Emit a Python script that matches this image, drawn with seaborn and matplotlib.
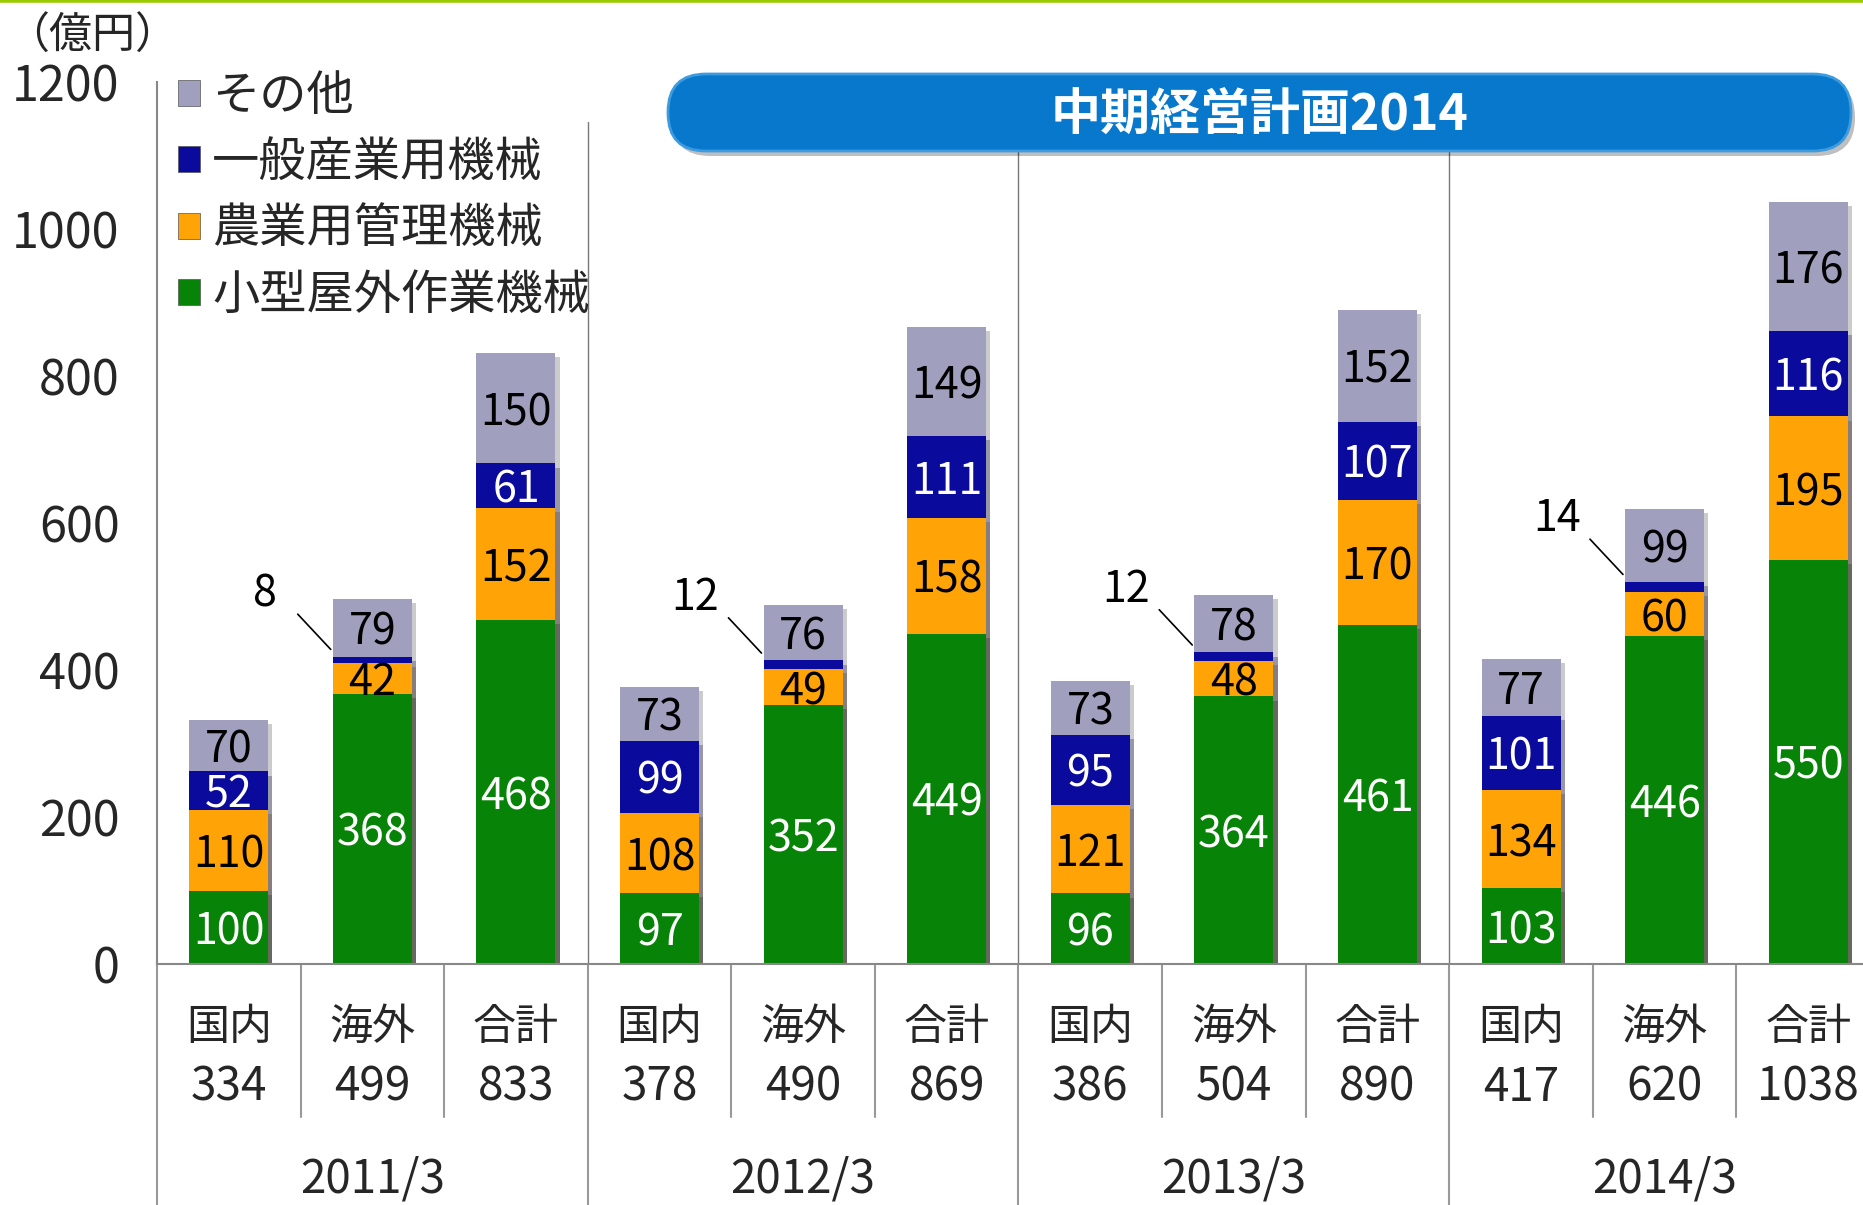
"""
Stacked bar chart: sales by segment, domestic / overseas / total, 2011/3 - 2014/3.
"""
import matplotlib
matplotlib.use('Agg')
import matplotlib.pyplot as plt
import matplotlib.patheffects as pe
import seaborn as sns
import pandas as pd
from matplotlib import font_manager, transforms
from matplotlib.patches import FancyBboxPatch, Patch
from matplotlib.lines import Line2D

# Data (億円)
years = ['2011/3', '2012/3', '2013/3', '2014/3']
regions = ['国内', '海外', '合計']
totals = [334, 499, 833, 378, 490, 869, 386, 504, 890, 417, 620, 1038]

series_names = ['小型屋外作業機械', '農業用管理機械', '一般産業用機械', 'その他']
outdoor = [100, 368, 468, 97, 352, 449, 96, 364, 461, 103, 446, 550]
agri = [110, 42, 152, 108, 49, 158, 121, 48, 170, 134, 60, 195]
industrial = [52, 8, 61, 99, 12, 111, 95, 12, 107, 101, 14, 116]
other = [70, 79, 150, 73, 76, 149, 73, 78, 152, 77, 99, 176]

colors = ['#078407', '#ffa306', '#0a0a9c', '#a0a0be']
label_colors = ['white', 'black', 'white', 'black']

W, H = 1863, 1205


def main():
    sns.set_style('white')
    plt.rcParams['font.family'] = ['Noto Sans CJK JP', 'DejaVu Sans']
    names = {f.name for f in font_manager.fontManager.ttflist}
    if 'Liberation Sans Narrow' in names:
        num_font, num_size = 'Liberation Sans Narrow', 34
    else:
        num_font, num_size = 'Noto Sans CJK JP', 31

    fig = plt.figure(figsize=(W / 100, H / 100), dpi=100)
    ax = fig.add_axes([157 / W, 0.2, 1723 / W, 882 / H])

    keys = [f'{y} {r}' for y in years for r in regions]
    df = pd.DataFrame({'key': keys, 's0': outdoor, 's1': agri, 's2': industrial, 's3': other})
    cols = ['s0', 's1', 's2', 's3']
    cum = df[cols].cumsum(axis=1)
    cum['key'] = keys

    # stacked bars: draw cumulative heights from the top layer down
    for k in reversed(range(4)):
        sns.barplot(data=cum, x='key', y=cols[k], order=keys, color=colors[k],
                    saturation=1, width=0.55, errorbar=None, ax=ax, edgecolor='none')
    for p in ax.patches:
        p.set_path_effects([pe.SimplePatchShadow(offset=(3, -3), alpha=0.25), pe.Normal()])

    # segment labels
    for k, col in enumerate(cols):
        for i in range(len(keys)):
            v = df[col][i]
            bottom = cum[col][i] - v
            if v < 20:
                top = cum[col][i]
                ax.plot([i - 0.52, i - 0.29], [top + 58, top + 10], color='black', lw=1.2)
                ax.text(i - 0.75, top + 92, str(v), ha='center', va='center_baseline',
                        fontsize=num_size, family=num_font, color='black')
                continue
            ax.text(i, bottom + v / 2, str(v), ha='center', va='center_baseline',
                    fontsize=num_size, family=num_font, color=label_colors[k])

    ax.set_xlim(-0.5, 11.5)
    ax.set_ylim(0, 1200)
    ax.set_xlabel('')
    ax.set_ylabel('')
    ax.set_xticks([])
    ax.set_yticks(range(0, 1201, 200))
    ax.tick_params(axis='y', direction='out', length=10, width=1.5, color='#888888',
                   pad=17, labelsize=35)
    for s in ['top', 'right']:
        ax.spines[s].set_visible(False)
    for s in ['left', 'bottom']:
        ax.spines[s].set_color('#888888')
        ax.spines[s].set_linewidth(1.5)

    # group separators inside the plot
    for x in [2.5, 5.5, 8.5]:
        ax.plot([x, x], [0, 1145], color='#777777', lw=1, zorder=0)

    # category table below the axis
    tr = ax.get_xaxis_transform()
    for i, key in enumerate(keys):
        ax.text(i, -0.073, regions[i % 3], transform=tr, ha='center', va='center', fontsize=31)
        ax.text(i, -0.140, str(totals[i]), transform=tr, ha='center', va='center', fontsize=33)
    for g, y in enumerate(years):
        ax.text(g * 3 + 1, -0.244, y, transform=tr, ha='center', va='center', fontsize=33)
    for x in [0.5, 1.5, 3.5, 4.5, 6.5, 7.5, 9.5, 10.5]:
        ax.plot([x, x], [0, -0.173], transform=tr, color='#999999', lw=1.5, clip_on=False)
    for x in [-0.5, 2.5, 5.5, 8.5]:
        ax.plot([x, x], [0, -0.3], transform=tr, color='#999999', lw=1.5, clip_on=False)

    # legend
    handles = [Patch(facecolor=colors[k], edgecolor='#555555', lw=0.5) for k in [3, 2, 1, 0]]
    labels = [series_names[k] for k in [3, 2, 1, 0]]
    fig.legend(handles, labels, loc='upper left', bbox_to_anchor=(178 / W, 1 - 72 / H),
               bbox_transform=fig.transFigure, frameon=False, fontsize=34,
               handlelength=0.47, handleheight=0.47, handletextpad=0.25,
               labelspacing=0.38, borderpad=0, borderaxespad=0)

    fig.text(92 / W, 1 - 37 / H, '（億円）', ha='center', va='center', fontsize=31)

    # plan banner
    px = transforms.IdentityTransform()
    shadow = FancyBboxPatch((672, H - 156), 1183, 77, boxstyle='round,pad=0,rounding_size=38',
                            transform=px, facecolor='#000000', alpha=0.25, edgecolor='none')
    banner = FancyBboxPatch((668, H - 151), 1183, 77, boxstyle='round,pad=0,rounding_size=38',
                            transform=px, facecolor='#0878cc', edgecolor='#3d9be0', lw=2)
    fig.add_artist(shadow)
    fig.add_artist(banner)
    fig.text(1260 / W, 1 - 115 / H, '中期経営計画2014', ha='center', va='center',
             fontsize=36, fontweight='bold', color='white')

    # green rule at the very top
    fig.add_artist(Line2D([0, 1], [1, 1], transform=fig.transFigure, color='#99cc00', lw=4))

    fig.savefig('out.png', dpi=100)
    plt.close(fig)


if __name__ == '__main__':
    main()
